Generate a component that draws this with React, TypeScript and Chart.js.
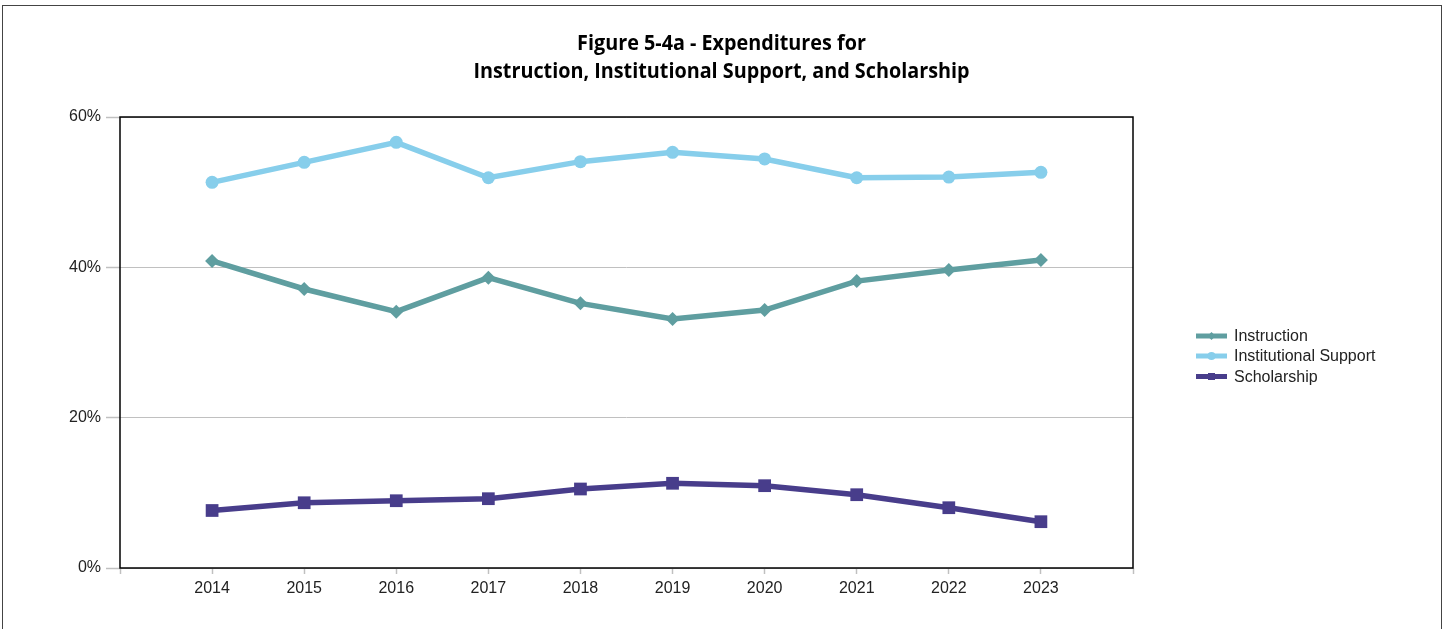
import React, { useEffect, useRef } from 'react';
import { Chart, registerables } from 'chart.js';

Chart.register(...registerables);

const years = [2014, 2015, 2016, 2017, 2018, 2019, 2020, 2021, 2022, 2023];
const instruction = [40.85, 37.12, 34.1, 38.62, 35.21, 33.12, 34.32, 38.17, 39.64, 40.97];
const institutionalSupport = [51.31, 53.97, 56.63, 51.92, 54.06, 55.3, 54.42, 51.92, 52.01, 52.64];
const scholarship = [7.65, 8.68, 8.95, 9.22, 10.51, 11.27, 10.95, 9.75, 8.02, 6.16];
const yTicks = [0, 20, 40, 60];
const xRange = [2013, 2024];
const titleLines = ['Figure 5-4a - Expenditures for', 'Instruction, Institutional Support, and Scholarship'];
const seriesNames = ['Instruction', 'Institutional Support', 'Scholarship'];
const seriesColors = ['#5F9EA0', '#87CEEB', '#483D8B'];
const seriesPoints = ['rectRot', 'circle', 'rect'];

const W = 1445;
const H = 629;
const AXIS_FONT = '"Liberation Sans", Arial, sans-serif';

function drawMarker(ctx: CanvasRenderingContext2D, style: string, x: number, y: number, r: number) {
  ctx.beginPath();
  if (style === 'circle') {
    ctx.arc(x, y, r, 0, Math.PI * 2);
  } else if (style === 'rect') {
    ctx.rect(x - r, y - r, 2 * r, 2 * r);
  } else {
    ctx.moveTo(x, y - r);
    ctx.lineTo(x + r, y);
    ctx.lineTo(x, y + r);
    ctx.lineTo(x - r, y);
    ctx.closePath();
  }
  ctx.fill();
}

const decorPlugin = {
  id: 'decor',
  afterDraw(chart: any) {
    const { ctx, chartArea } = chart;
    ctx.save();
    // outer frame
    ctx.strokeStyle = '#444';
    ctx.lineWidth = 1;
    ctx.strokeRect(2.5, 5.5, 1439, 700);
    // plot frame
    ctx.strokeStyle = '#000';
    ctx.lineWidth = 1.5;
    ctx.strokeRect(chartArea.left, chartArea.top, chartArea.right - chartArea.left, chartArea.bottom - chartArea.top);

    // title
    ctx.fillStyle = '#000';
    ctx.font = 'bold 20.5px "Open Sans", sans-serif';
    ctx.textBaseline = 'alphabetic';
    ctx.textAlign = 'center';
    const target = 496;
    const w2 = ctx.measureText(titleLines[1]).width;
    const sx = Math.min(1, target / w2);
    const cx = 721.5;
    const baselines = [50, 78];
    titleLines.forEach((line, i) => {
      ctx.save();
      ctx.translate(cx, baselines[i]);
      ctx.scale(sx, 1);
      ctx.fillText(line, 0, 0);
      ctx.restore();
    });

    // legend
    const lx = 1196;
    const lw = 31;
    const rows = [336, 356, 376.5];
    ctx.textAlign = 'left';
    ctx.textBaseline = 'middle';
    ctx.font = '16px ' + AXIS_FONT;
    seriesNames.forEach((name, i) => {
      const y = rows[i];
      ctx.strokeStyle = seriesColors[i];
      ctx.fillStyle = seriesColors[i];
      ctx.lineWidth = 5;
      ctx.beginPath();
      ctx.moveTo(lx, y);
      ctx.lineTo(lx + lw, y);
      ctx.stroke();
      drawMarker(ctx, seriesPoints[i], lx + lw / 2, y, seriesPoints[i] === 'rect' ? 3.5 : 4);
      ctx.fillStyle = '#222';
      ctx.fillText(name, 1234, y + 1);
    });
    ctx.restore();
  },
};

export default function App() {
  const ref = useRef<HTMLCanvasElement | null>(null);

  useEffect(() => {
    if (!ref.current) return;
    const seriesValues = [instruction, institutionalSupport, scholarship];
    const chart = new Chart(ref.current, {
      type: 'line',
      data: {
        datasets: seriesNames.map((name, i) => ({
          label: name,
          data: years.map((yr, j) => ({ x: yr, y: seriesValues[i][j] })),
          borderColor: seriesColors[i],
          backgroundColor: seriesColors[i],
          borderWidth: 5.5,
          pointStyle: seriesPoints[i] as any,
          pointRadius: seriesPoints[i] === 'rect' ? 9 : seriesPoints[i] === 'circle' ? 6.5 : 7,
          pointBorderWidth: 0,
          pointBackgroundColor: seriesColors[i],
          pointBorderColor: seriesColors[i],
          tension: 0,
          fill: false,
        })),
      },
      options: {
        animation: false,
        responsive: false,
        devicePixelRatio: 1,
        layout: { padding: { top: 117, right: W - 1133, left: 0, bottom: 0 } },
        plugins: {
          legend: { display: false },
          title: { display: false },
          tooltip: { enabled: false },
        },
        scales: {
          x: {
            type: 'linear',
            min: xRange[0],
            max: xRange[1],
            afterBuildTicks: (scale: any) => {
              const t = [];
              for (let v = xRange[0]; v <= xRange[1]; v++) t.push({ value: v });
              scale.ticks = t;
            },
            afterFit: (scale: any) => {
              scale.height = H - 568;
            },
            grid: {
              drawOnChartArea: false,
              drawTicks: true,
              tickLength: 6,
              tickColor: '#c0c0c0',
              tickWidth: 1.5,
            },
            border: { display: false },
            ticks: {
              autoSkip: false,
              maxRotation: 0,
              padding: 5,
              color: '#222',
              font: { family: AXIS_FONT, size: 16 },
              callback: (v: any) => (years.includes(Number(v)) ? String(v) : ''),
            },
          },
          y: {
            min: yTicks[0],
            max: yTicks[yTicks.length - 1],
            afterBuildTicks: (scale: any) => {
              scale.ticks = yTicks.map((v) => ({ value: v }));
            },
            afterFit: (scale: any) => {
              scale.width = 120;
            },
            grid: {
              color: '#c0c0c0',
              lineWidth: 1,
              drawTicks: true,
              tickLength: 14,
              tickColor: '#c0c0c0',
              tickWidth: 1.5,
            },
            border: { display: false },
            ticks: {
              padding: 5,
              color: '#222',
              font: { family: AXIS_FONT, size: 16 },
              callback: (v: any) => v + '%',
            },
          },
        },
      },
      plugins: [decorPlugin],
    });
    return () => chart.destroy();
  }, []);

  return (
    <div style={{ position: 'absolute', left: 0, top: 0, width: W, height: H, background: '#fff' }}>
      <canvas ref={ref} width={W} height={H} style={{ display: 'block', width: W, height: H }} />
    </div>
  );
}
